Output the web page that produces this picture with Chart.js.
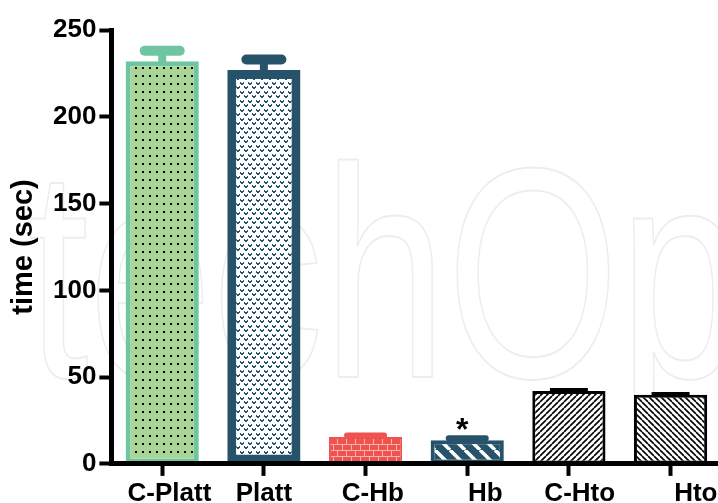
<!DOCTYPE html>
<html><head><meta charset="utf-8">
<script src="https://cdn.jsdelivr.net/npm/chart.js@4.4.0/dist/chart.umd.min.js"></script>
<style>
html,body{margin:0;padding:0;background:#fff;overflow:hidden;}
#wrap{position:relative;width:724px;height:503px;}
</style></head><body>
<div id="wrap"><canvas id="c"></canvas></div>
<script>
// ---- data ----
const categories = ['C-Platt', 'Platt', 'C-Hb', 'Hb', 'C-Hto', 'Hto'];
const values = [232, 227, 15.5, 13.6, 42, 39.8];
const errors = [6, 6, 0.8, 1.2, 0.9, 0.8];
const significance = ['', '', '', '*', '', ''];
const yTicks = [0, 50, 100, 150, 200, 250];
const yTitle = 'time (sec)';
const watermark = 'techOpen';

// ---- styling ----
const labelIndent = [2, 0, 2, 5, 3, 7]; // leading spaces in tick labels
const FONT = '"Liberation Sans", Arial, Helvetica, sans-serif';

function makePattern(w, h, draw) {
  const c = document.createElement('canvas');
  c.width = w; c.height = h;
  const x = c.getContext('2d');
  draw(x, w, h);
  return x.createPattern(c, 'repeat');
}
const dots = makePattern(7, 8, (x, w, h) => {
  x.fillStyle = '#A9D597'; x.fillRect(0, 0, w, h);
  x.fillStyle = '#000'; x.fillRect(2, 3, 2, 2);
});
const vees = makePattern(8, 9, (x, w, h) => {
  x.fillStyle = '#fff'; x.fillRect(0, 0, w, h);
  x.fillStyle = '#27536A';
  const v = (a, b) => { x.fillRect(a, b, 1, 2); x.fillRect(a + 3, b, 1, 2); x.fillRect(a + 1, b + 1, 2, 2); };
  v(0, 1); v(4, 5);
});
const bricks = makePattern(18, 12, (x, w, h) => {
  x.fillStyle = '#EE5350'; x.fillRect(0, 0, w, h);
  x.fillStyle = '#F7B3AE';
  x.fillRect(0, 0, 18, 1); x.fillRect(0, 6, 18, 1);
  x.fillRect(0, 0, 1, 6); x.fillRect(9, 0, 1, 6);
  x.fillRect(4, 6, 1, 6); x.fillRect(13, 6, 1, 6);
});
function stripes(size, lw, bg, fg, forward) {
  return makePattern(size, size, (x, w, h) => {
    x.fillStyle = bg; x.fillRect(0, 0, w, h);
    x.strokeStyle = fg; x.lineWidth = lw;
    x.beginPath();
    for (const k of [-size, 0, size]) {
      if (forward) { x.moveTo(k, size); x.lineTo(k + size, 0); }
      else { x.moveTo(k, 0); x.lineTo(k + size, size); }
    }
    x.stroke();
  });
}
const hbStripes = stripes(15, 3.5, '#27536A', '#fff', false);
const fwd = stripes(6, 1.6, '#fff', '#000', true);
const back = stripes(6, 1.6, '#fff', '#000', false);

const barStyles = [
  { fill: dots, border: '#6EC6A0', bw: 5, cap: 10, stem: 8, capW: 45, round: true },
  { fill: vees, border: '#27536A', bw: 9, cap: 10, stem: 8, capW: 45, round: true },
  { fill: bricks, border: '#EE5350', bw: 2, cap: 6, stem: 6, capW: 43, round: true },
  { fill: hbStripes, border: '#27536A', bw: 4, cap: 6, stem: 6, capW: 43, round: true },
  { fill: fwd, border: '#000', bw: 3, cap: 3, stem: 3, capW: 38, round: false },
  { fill: back, border: '#000', bw: 3, cap: 3, stem: 3, capW: 38, round: false }
];

const watermarkPlugin = {
  id: 'wm',
  beforeDraw(chart) {
    const ctx = chart.ctx;
    ctx.save();
    ctx.translate(27, 377);
    ctx.scale(0.74, 1);
    ctx.font = '300px ' + FONT;
    ctx.strokeStyle = '#ededed';
    ctx.lineWidth = 2;
    ctx.strokeText(watermark, 0, 0);
    ctx.restore();
  }
};

const errPlugin = {
  id: 'err',
  afterDatasetsDraw(chart) {
    const ctx = chart.ctx;
    const meta = chart.getDatasetMeta(0);
    const y = chart.scales.y;
    meta.data.forEach((bar, i) => {
      const s = barStyles[i];
      const top = y.getPixelForValue(values[i] + errors[i]);
      ctx.save();
      ctx.strokeStyle = s.border;
      ctx.lineCap = 'butt';
      ctx.lineWidth = s.stem;
      ctx.beginPath(); ctx.moveTo(bar.x, bar.y + 2); ctx.lineTo(bar.x, top); ctx.stroke();
      ctx.lineCap = s.round ? 'round' : 'butt';
      ctx.lineWidth = s.cap;
      const half = (s.round ? s.capW - s.cap : s.capW) / 2;
      ctx.beginPath(); ctx.moveTo(bar.x - half, top); ctx.lineTo(bar.x + half, top); ctx.stroke();
      if (significance[i]) {
        ctx.fillStyle = '#000';
        ctx.font = 'bold 32px ' + FONT;
        ctx.textAlign = 'center';
        ctx.textBaseline = 'alphabetic';
        ctx.fillText(significance[i], bar.x - 5, top + 2);
      }
      ctx.restore();
    });
  }
};

new Chart(document.getElementById('c'), {
  type: 'bar',
  data: {
    labels: categories,
    datasets: [{
      data: values,
      backgroundColor: barStyles.map(s => s.fill),
      borderColor: barStyles.map(s => s.border),
      borderWidth: barStyles.map(s => s.bw),
      borderSkipped: false,
      barPercentage: 0.72,
      categoryPercentage: 1
    }]
  },
  options: {
    responsive: true,
    maintainAspectRatio: false,
    animation: false,
    devicePixelRatio: 1,
    layout: { padding: { top: 30, left: 0, right: 0, bottom: -8 } },
    plugins: { legend: { display: false }, tooltip: { enabled: false } },
    scales: {
      x: {
        grid: { display: true, drawOnChartArea: false, drawTicks: true, tickLength: 12, tickColor: '#000', tickWidth: 4, offset: false },
        border: { display: true, color: '#000', width: 5, z: 1 },
        ticks: {
          color: '#000', padding: 6.5, maxRotation: 0, autoSkip: false,
          font: { family: FONT, size: 26, weight: 'bold', lineHeight: 0.85 },
          callback: function (v, i) { return ' '.repeat(labelIndent[i]) + categories[i]; }
        }
      },
      y: {
        min: 0, max: 250,
        afterBuildTicks: (scale) => { scale.ticks = yTicks.map(v => ({ value: v })); },
        grid: { display: true, drawOnChartArea: false, drawTicks: true, tickLength: 12, tickColor: '#000', tickWidth: 4 },
        border: { display: true, color: '#000', width: 5, z: 1 },
        ticks: { color: '#000', padding: 3, font: { family: FONT, size: 26, weight: 'bold' } },
        title: {
          display: true, text: yTitle, color: '#000',
          font: { family: FONT, size: 29, weight: 'bold', lineHeight: 1 },
          padding: { top: 9.5, bottom: 11.5 }
        }
      }
    }
  },
  plugins: [watermarkPlugin, errPlugin]
});
</script>
</body></html>
